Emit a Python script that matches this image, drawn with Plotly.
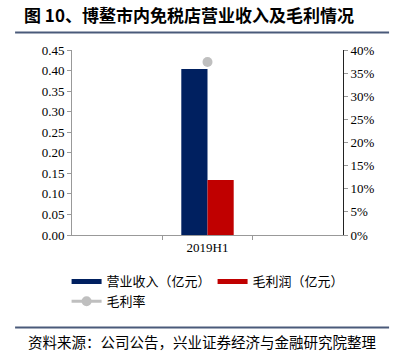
import plotly.graph_objects as go

categories = ["2019H1"]
revenue = [0.404]        # 营业收入（亿元）
gross_profit = [0.134]   # 毛利润（亿元）
gross_margin = [37.4]    # 毛利率 (%)

left_ticks = [0, 0.05, 0.10, 0.15, 0.20, 0.25, 0.30, 0.35, 0.40, 0.45]
right_ticks = [0, 5, 10, 15, 20, 25, 30, 35, 40]

BLUE = "#002060"
RED = "#C00000"
GRAY = "#BFBFBF"
SERIF = "Liberation Serif, Times New Roman, serif"
CJK = "Noto Sans CJK SC, sans-serif"

fig = go.Figure()
fig.add_trace(go.Bar(x=categories, y=revenue, name="营业收入（亿元）",
                     marker=dict(color=BLUE, line=dict(width=0)), showlegend=False))
fig.add_trace(go.Bar(x=categories, y=gross_profit, name="毛利润（亿元）",
                     marker=dict(color=RED, line=dict(width=0)), showlegend=False))
# legend swatches drawn as thick lines like the reference
fig.add_trace(go.Scatter(x=[None], y=[None], mode="lines", name="营业收入（亿元）",
                         line=dict(color=BLUE, width=5)))
fig.add_trace(go.Scatter(x=[None], y=[None], mode="lines", name="毛利润（亿元）",
                         line=dict(color=RED, width=5)))
fig.add_trace(go.Scatter(x=categories, y=gross_margin, name="毛利率", yaxis="y2",
                         mode="lines+markers",
                         line=dict(color=GRAY, width=3),
                         marker=dict(color=GRAY, size=10)))

fig.update_layout(
    width=396, height=352,
    margin=dict(l=72, r=53, t=50, b=117),
    paper_bgcolor="white", plot_bgcolor="white",
    barmode="group", bargap=0.42, bargroupgap=0,
    font=dict(family=SERIF, size=13, color="#000000"),
    xaxis=dict(type="category", range=[-1.5, 1.5], tickson="boundaries",
               ticks="outside", ticklen=4, tickcolor="#999999",
               showline=True, linecolor="#999999", linewidth=1,
               showgrid=False, zeroline=False,
               tickfont=dict(family=SERIF, size=13)),
    yaxis=dict(range=[0, 0.45], tickvals=left_ticks,
               ticktext=[f"{v:.2f}" for v in left_ticks],
               ticks="outside", ticklen=4, tickcolor="#999999",
               showline=True, linecolor="#999999", linewidth=1,
               showgrid=False, zeroline=False,
               tickfont=dict(family=SERIF, size=13)),
    yaxis2=dict(range=[0, 40], tickvals=right_ticks,
                ticktext=[f"{v}%" for v in right_ticks],
                overlaying="y", side="right",
                ticks="outside", ticklen=4, tickcolor="#999999",
                showline=True, linecolor="#222222", linewidth=1,
                showgrid=False, zeroline=False,
                tickfont=dict(family=SERIF, size=13)),
    legend=dict(orientation="h", x=-0.02, xanchor="left", y=-0.17, yanchor="top",
                entrywidth=101, entrywidthmode="pixels",
                itemwidth=30, tracegroupgap=0,
                font=dict(family=CJK, size=13, color="#000000"),
                bgcolor="rgba(0,0,0,0)"),
    showlegend=True,
)

fig.add_annotation(text="<b>图 10、博鳌市内免税店营业收入及毛利情况</b>",
                   xref="paper", yref="paper", x=-0.185, y=1.0, xanchor="left", yanchor="bottom",
                   yshift=21, showarrow=False,
                   font=dict(family=CJK, size=17, color="#000000"))
fig.add_shape(type="line", xref="paper", yref="paper", x0=-0.21, x1=1.17, y0=1.095, y1=1.095,
              line=dict(color="#4a5a7a", width=2))
fig.add_shape(type="line", xref="paper", yref="paper", x0=-0.21, x1=1.17, y0=-0.5, y1=-0.5,
              line=dict(color="#4a5a7a", width=2))
fig.add_annotation(text="资料来源：公司公告，兴业证券经济与金融研究院整理",
                   xref="paper", yref="paper", x=-0.17, y=-0.51, xanchor="left", yanchor="top",
                   showarrow=False,
                   font=dict(family=CJK, size=14.5, color="#000000"))

fig.write_html("out.html")
